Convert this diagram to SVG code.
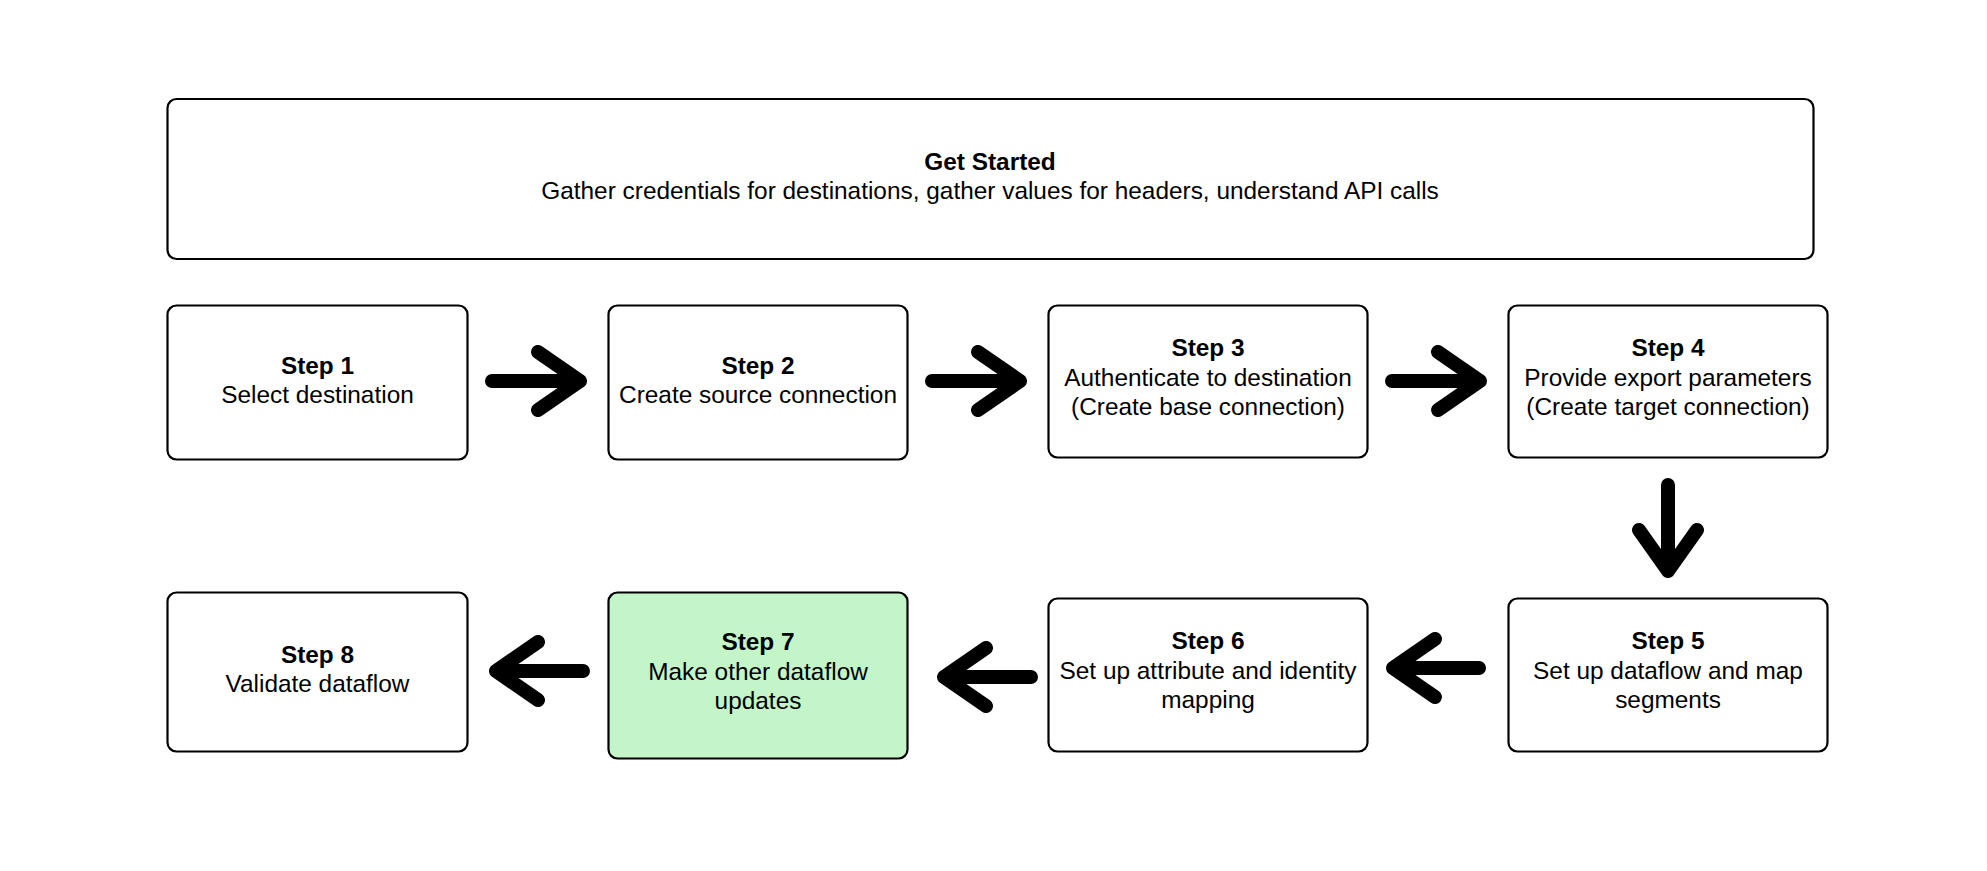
<svg xmlns="http://www.w3.org/2000/svg" width="1987" height="871" viewBox="0 0 1987 871">
<style>
.box{fill:#fff;stroke:#000;stroke-width:2.2}
.green{fill:#c3f5c8}
text{font-family:"Liberation Sans",Arial,sans-serif;font-size:24.4px;fill:#000;text-anchor:middle}
.b{font-weight:bold}
.arr{fill:none;stroke:#000;stroke-width:14;stroke-linecap:round;stroke-linejoin:round}
</style>
<rect width="1987" height="871" fill="#fff"/>
<g id="get-started">
<rect class="box" x="167.5" y="99" width="1646" height="160" rx="9"/>
<text class="b" x="990" y="170">Get Started</text>
<text x="990" y="199">Gather credentials for destinations, gather values for headers, understand API calls</text>
</g>
<g id="step1">
<rect class="box" x="167.5" y="305.5" width="300" height="154" rx="9"/>
<text class="b" x="317.5" y="374">Step 1</text>
<text x="317.5" y="403">Select destination</text>
</g>
<g id="step2">
<rect class="box" x="608.5" y="305.5" width="299" height="154" rx="9"/>
<text class="b" x="758" y="374">Step 2</text>
<text x="758" y="403">Create source connection</text>
</g>
<g id="step3">
<rect class="box" x="1048.5" y="305.5" width="319" height="152" rx="9"/>
<text class="b" x="1208" y="356">Step 3</text>
<text x="1208" y="386">Authenticate to destination</text>
<text x="1208" y="415">(Create base connection)</text>
</g>
<g id="step4">
<rect class="box" x="1508.5" y="305.5" width="319" height="152" rx="9"/>
<text class="b" x="1668" y="356">Step 4</text>
<text x="1668" y="386">Provide export parameters</text>
<text x="1668" y="415">(Create target connection)</text>
</g>
<g id="step5">
<rect class="box" x="1508.5" y="598.5" width="319" height="153" rx="9"/>
<text class="b" x="1668" y="649">Step 5</text>
<text x="1668" y="679">Set up dataflow and map</text>
<text x="1668" y="708">segments</text>
</g>
<g id="step6">
<rect class="box" x="1048.5" y="598.5" width="319" height="153" rx="9"/>
<text class="b" x="1208" y="649">Step 6</text>
<text x="1208" y="679">Set up attribute and identity</text>
<text x="1208" y="708">mapping</text>
</g>
<g id="step7">
<rect class="box green" x="608.5" y="592.5" width="299" height="166" rx="9"/>
<text class="b" x="758" y="650">Step 7</text>
<text x="758" y="680">Make other dataflow</text>
<text x="758" y="709">updates</text>
</g>
<g id="step8">
<rect class="box" x="167.5" y="592.5" width="300" height="159" rx="9"/>
<text class="b" x="317.5" y="663">Step 8</text>
<text x="317.5" y="692">Validate dataflow</text>
</g>
<g id="connectors">
<path class="arr" d="M492 381H580M538 352L580 381L538 410"/>
<path class="arr" d="M932 381H1020M978 352L1020 381L978 410"/>
<path class="arr" d="M1392 381H1480M1438 352L1480 381L1438 410"/>
<path class="arr" d="M1668 485V571M1639 530L1668 571L1697 530"/>
<path class="arr" d="M1479 668H1393M1435 639L1393 668L1435 697"/>
<path class="arr" d="M1031 677H944M986 648L944 677L986 706"/>
<path class="arr" d="M583 671H496M538 642L496 671L538 700"/>
</g>
</svg>
